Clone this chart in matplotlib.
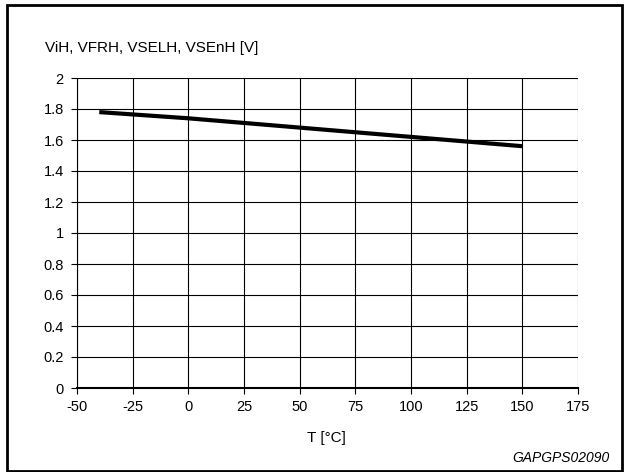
import matplotlib
matplotlib.use("Agg")
import matplotlib.pyplot as plt
from matplotlib.patches import Rectangle

plt.rcParams['font.family'] = ['Liberation Sans', 'DejaVu Sans']
plt.rcParams['axes.unicode_minus'] = False

# temperatures and threshold voltage
temp = [-40, 0, 25, 50, 75, 100, 125, 150]
volt = [1.78, 1.74, 1.71, 1.68, 1.65, 1.62, 1.59, 1.56]

xticks = [-50, -25, 0, 25, 50, 75, 100, 125, 150, 175]
yticks = [0, 0.2, 0.4, 0.6, 0.8, 1, 1.2, 1.4, 1.6, 1.8, 2]
ytick_labels = ['0', '0.2', '0.4', '0.6', '0.8', '1', '1.2', '1.4', '1.6', '1.8', '2']

W, H = 626, 472
fig = plt.figure(figsize=(W / 100, H / 100), dpi=100)
ax = fig.add_axes([77 / W, 1 - 388 / H, (578 - 77) / W, (388 - 78) / H])

ax.plot(temp, volt, color='black', lw=3, solid_capstyle='butt')

ax.set_xlim(-50, 175)
ax.set_ylim(0, 2)
ax.set_xticks(xticks)
ax.set_yticks(yticks)
ax.set_yticklabels(ytick_labels)
ax.grid(True, color='black', lw=0.8)
ax.tick_params(labelsize=10.5, length=4, width=0.8, color='black')
ax.tick_params(axis='y', pad=5.5)
ax.tick_params(axis='x', pad=4.5)
for s in ['top', 'right']:
    ax.spines[s].set_visible(False)
ax.spines['left'].set_linewidth(0.8)
ax.spines['bottom'].set_linewidth(1.5)
ax.set_axisbelow(True)

fig.text(45 / W, 1 - 48 / H, 'ViH, VFRH, VSELH, VSEnH [V]', fontsize=11,
         ha='left', va='center')
fig.text(326 / W, 1 - 438 / H, 'T [°C]', fontsize=11, ha='center', va='center')
fig.text(610 / W, 1 - 458 / H, 'GAPGPS02090', fontsize=10, style='italic',
         ha='right', va='center')

# outer frame
fig.patches.append(Rectangle((7 / W, 0.002), (622 - 7) / W, 1 - 5 / H - 0.002,
                             transform=fig.transFigure, fill=False,
                             ec='black', lw=2))

fig.savefig('out.png', dpi=100)
